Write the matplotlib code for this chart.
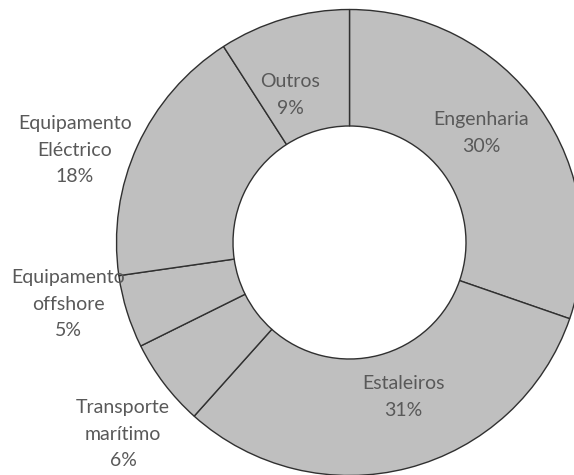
import matplotlib
matplotlib.use("Agg")
import matplotlib.pyplot as plt

# dados do grafico
sectores = ["Engenharia", "Estaleiros", "Transporte\nmarítimo",
            "Equipamento\noffshore", "Equipamento\nEléctrico", "Outros"]
valores = [30, 31, 6, 5, 18, 9]
percentagens = ["30%", "31%", "6%", "5%", "18%", "9%"]

# posicao das etiquetas em pixeis (x, y a partir do topo)
pos_etiquetas = [(481, 133), (403, 397), (123, 434),
                 (68, 304), (75, 150), (290, 95)]

W, H = 574, 475
fig = plt.figure(figsize=(W / 100, H / 100), dpi=100)
ax = fig.add_axes([0, 0, 1, 1])

centro = (349.5, H - 242.5)
raio = 233

wedges, _ = ax.pie(valores, startangle=90, counterclock=False,
                   center=centro, radius=raio,
                   colors=["#bfbfbf"] * len(valores),
                   wedgeprops=dict(width=raio * 0.5, edgecolor="#303030",
                                   linewidth=1.0))

for nome, pct, (x, y) in zip(sectores, percentagens, pos_etiquetas):
    ax.text(x, H - y, nome + "\n" + pct, ha="center", va="center",
            fontsize=14, color="#595959", family=["Lato", "DejaVu Sans"],
            linespacing=1.65)

ax.set_xlim(0, W)
ax.set_ylim(0, H)
ax.set_aspect("equal")
ax.axis("off")

plt.savefig("out.png", dpi=100)
